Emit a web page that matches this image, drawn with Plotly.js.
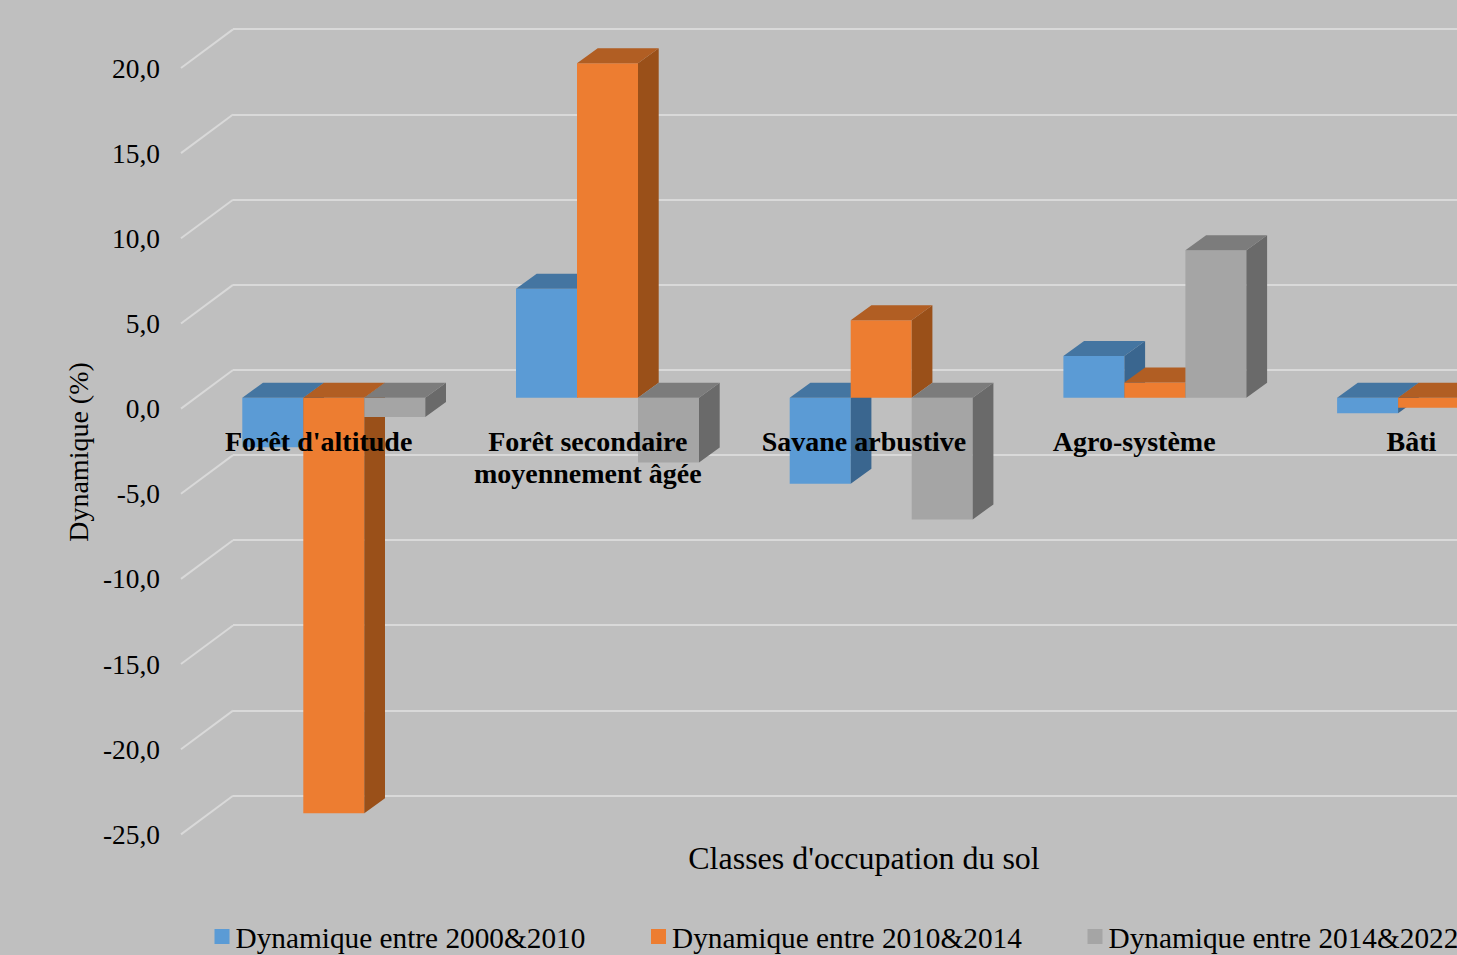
<!DOCTYPE html>
<html lang="fr">
<head>
<meta charset="utf-8">
<title>Dynamique des classes d'occupation du sol</title>
<script src="https://cdn.plot.ly/plotly-3.0.1.min.js"></script>
<style>
  html, body { margin: 0; padding: 0; background: #bfbfbf; overflow: hidden; width: 1457px; height: 955px; }
</style>
</head>
<body>
<div id="chart"></div>
<script>
// Land-cover classes and their change rate (%) for each period
const categories = ["Forêt d'altitude", "Forêt secondaire<br>moyennement âgée", "Savane arbustive", "Agro-système", "Bâti"];
const seriesNames = ["Dynamique entre 2000&2010", "Dynamique entre 2010&2014", "Dynamique entre 2014&2022"];
const dyn2000_2010 = [-2.9, 6.4, -5.05, 2.45, -0.9];
const dyn2010_2014 = [-24.4, 19.65, 4.55, 0.9, -0.58];
const dyn2014_2022 = [-1.13, -3.8, -7.14, 8.67, 3.4];
const tickValues = [20, 15, 10, 5, 0, -5, -10, -15, -20, -25];
const tickLabels = ["20,0", "15,0", "10,0", "5,0", "0,0", "-5,0", "-10,0", "-15,0", "-20,0", "-25,0"];

// Palette per series: front, top and side faces of each box
const frontColors = ["#5b9bd5", "#ed7d31", "#a5a5a5"];
const topColors = ["#4475a1", "#b15e23", "#7c7c7c"];
const sideColors = ["#3a668f", "#9a5019", "#6a6a6a"];

// Page geometry in pixels
const W = 1728, H = 1000, plotBottom = 904;
const pxPerCat = 273.7, pxPerUnit = 17.03;
const labelCentre = 864;          // pixel of category index 2
const frontZero = 397.8, backZero = 370, tickZero = 408.6;
const barPx = 61, groupLeftPx = 242.3 - (labelCentre - 2 * pxPerCat);
const depthX = 20.7 / pxPerCat, depthY = 15 / pxPerUnit;
const labelNudgePx = [2, -2.5, 0, -3.5, 0];

const xPx = px => (px - labelCentre) / pxPerCat + 2;
const yRange = zero => [(zero - plotBottom) / pxPerUnit, zero / pxPerUnit];
const yDomain = [1 - plotBottom / H, 1];
const barW = barPx / pxPerCat;
const font = "'Liberation Serif', 'Times New Roman', serif";
const idx = categories.map((_, i) => i);

const traces = [];

// Empty trace that brings the back-wall subplot (and its grid) into being
traces.push({ x: [null], y: [null], xaxis: "x", yaxis: "y", type: "scatter", mode: "lines", showlegend: false, hoverinfo: "skip" });

[dyn2000_2010, dyn2010_2014, dyn2014_2022].forEach((vals, s) => {
  const yaxis = ["y2", "y3", "y4"][s];
  const offset = groupLeftPx / pxPerCat + s * barW;
  traces.push({
    type: "bar", x: idx, y: vals, name: seriesNames[s], xaxis: "x2", yaxis,
    width: barW, offset, marker: { color: frontColors[s], line: { width: 0 } }, hoverinfo: "y"
  });
  // Extrusion faces derived from the same values
  const topX = [], topY = [], sideX = [], sideY = [];
  vals.forEach((v, i) => {
    const x0 = i + offset, x1 = x0 + barW;
    const hi = Math.max(v, 0), lo = Math.min(v, 0);
    topX.push(x0, x0 + depthX, x1 + depthX, x1, x0, null);
    topY.push(hi, hi + depthY, hi + depthY, hi, hi, null);
    sideX.push(x1, x1 + depthX, x1 + depthX, x1, x1, null);
    sideY.push(hi, hi + depthY, lo + depthY, lo, hi, null);
  });
  [[sideX, sideY, sideColors[s]], [topX, topY, topColors[s]]].forEach(([fx, fy, col]) => {
    traces.push({
      type: "scatter", mode: "lines", x: fx, y: fy, xaxis: "x2", yaxis,
      fill: "toself", fillcolor: col, line: { width: 0, color: col },
      showlegend: false, hoverinfo: "skip"
    });
  });
});

// Floor-to-wall diagonals at each tick of the value axis
const diagX = [], diagY = [];
tickValues.forEach(v => {
  diagX.push(xPx(181), xPx(233), null);
  diagY.push(v, v + (tickZero - backZero) / pxPerUnit, null);
});
traces.push({
  type: "scatter", mode: "lines", x: diagX, y: diagY, xaxis: "x2", yaxis: "y5",
  line: { color: "#d9d9d9", width: 2 }, showlegend: false, hoverinfo: "skip"
});

const hiddenY = { range: yRange(frontZero), overlaying: "y2", anchor: "x2", visible: false, fixedrange: true };

const layout = {
  width: W, height: H,
  margin: { l: 0, r: 0, t: 0, b: 0, pad: 0 },
  paper_bgcolor: "#bfbfbf", plot_bgcolor: "rgba(0,0,0,0)",
  font: { family: font, color: "#000" },
  showlegend: true,
  legend: {
    orientation: "h", x: 195.5 / W, xanchor: "left", y: 1 - 937 / H, yanchor: "middle",
    font: { size: 29.3, family: font, color: "#000" },
    entrywidth: 391.5, entrywidthmode: "pixels", bgcolor: "rgba(0,0,0,0)", traceorder: "normal"
  },
  // Back wall with its horizontal grid
  xaxis: { domain: [233 / W, 1], range: [0, 1], visible: false, fixedrange: true, anchor: "y" },
  yaxis: {
    domain: yDomain, range: yRange(backZero), anchor: "x", fixedrange: true,
    tickmode: "array", tickvals: tickValues, ticktext: tickValues.map(() => ""),
    showgrid: true, gridcolor: "#d9d9d9", gridwidth: 2, zeroline: false, showline: false, ticks: ""
  },
  // Front plane of the boxes, carrying the category labels
  xaxis2: {
    domain: [0, 1], range: [xPx(0), xPx(W)], anchor: "free", position: 1 - 422 / H, fixedrange: true,
    tickmode: "array", tickvals: idx.map(i => i + labelNudgePx[i] / pxPerCat), ticktext: categories, tickangle: 0,
    tickfont: { size: 28, family: font, color: "#000", weight: "bold" },
    showgrid: false, zeroline: false, showline: false, ticks: "",
    title: { text: "Classes d'occupation du sol", font: { size: 32, family: font, color: "#000" }, standoff: 354 }
  },
  yaxis2: { domain: yDomain, range: yRange(frontZero), anchor: "x2", visible: false, fixedrange: true },
  yaxis3: hiddenY,
  yaxis4: hiddenY,
  // Value axis shown at the front-left edge of the floor
  yaxis5: {
    range: yRange(tickZero), overlaying: "y2", anchor: "free", position: 160 / W, side: "left", fixedrange: true,
    tickmode: "array", tickvals: tickValues, ticktext: tickLabels,
    tickfont: { size: 27.4, family: font, color: "#000" },
    showgrid: false, zeroline: false, showline: false, ticks: "",
    title: { text: "Dynamique (%)", font: { size: 28, family: font, color: "#000" }, standoff: 5 }
  }
};

Plotly.newPlot("chart", traces, layout, { displayModeBar: false, staticPlot: true }).then(() => {
  // Tighter swatches beside the legend text
  document.querySelectorAll(".legend .legendsymbols path").forEach(p => {
    p.setAttribute("transform", (p.getAttribute("transform") || "") + " translate(6.5,0) scale(1.25)");
  });
  // Tighter line spacing in the two-line category label
  document.querySelectorAll(".x2tick tspan.line").forEach(t => {
    if (parseFloat(t.getAttribute("dy")) > 0) t.setAttribute("dy", "1.14em");
  });
});
</script>
</body>
</html>
